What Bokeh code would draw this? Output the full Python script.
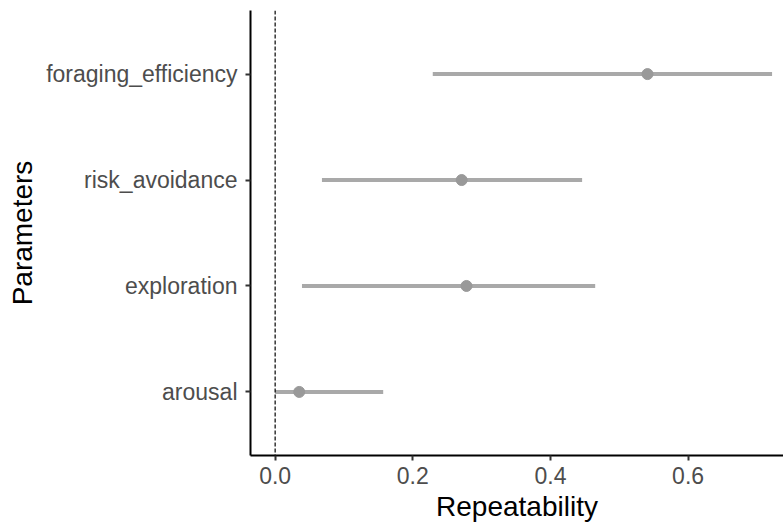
from bokeh.plotting import figure
from bokeh.models import Range1d, FixedTicker, PrintfTickFormatter, Span, ColumnDataSource
from bokeh.embed import file_html
from bokeh.resources import INLINE

# Data (bottom to top)
parameters = ["arousal", "exploration", "risk_avoidance", "foraging_efficiency"]
estimate = [0.035, 0.278, 0.271, 0.541]
lower = [0.0, 0.039, 0.068, 0.229]
upper = [0.157, 0.465, 0.446, 0.722]
x_ticks = [0.0, 0.2, 0.4, 0.6]

pos = list(range(1, len(parameters) + 1))
src = ColumnDataSource(dict(pos=pos, est=estimate, lo=lower, hi=upper))

p = figure(width=783, height=525, output_backend="svg", toolbar_location=None,
           x_range=Range1d(-0.0358, 0.7386), y_range=Range1d(0.4, 4.6),
           min_border_left=250, min_border_right=0, min_border_top=10, min_border_bottom=70)
p.outline_line_color = None
p.xgrid.visible = False
p.ygrid.visible = False
p.background_fill_color = "white"
p.border_fill_color = "white"

p.add_layout(Span(location=0, dimension="height", line_color="black",
                  line_width=1.2, line_dash="4 2"))

p.segment(x0="lo", x1="hi", y0="pos", y1="pos", source=src,
          line_color="#A9A9A9", line_width=4)
p.scatter(x="est", y="pos", source=src, size=11, fill_color="#999999",
          line_color="#999999")

for ax in (p.xaxis[0], p.yaxis[0]):
    ax.axis_line_color = "black"
    ax.axis_line_width = 2
    ax.major_tick_line_color = "#333333"
    ax.major_tick_line_width = 2
    ax.major_tick_out = 5
    ax.major_tick_in = 0
    ax.minor_tick_line_color = None
    ax.major_label_text_font = "Liberation Sans"
    ax.major_label_text_font_size = "23px"
    ax.major_label_text_color = "#4D4D4D"
    ax.axis_label_text_font = "Liberation Sans"
    ax.axis_label_text_font_size = "28px"
    ax.axis_label_text_font_style = "normal"
    ax.axis_label_text_color = "black"

p.xaxis.ticker = FixedTicker(ticks=x_ticks)
p.xaxis.formatter = PrintfTickFormatter(format="%.1f")
p.xaxis.axis_label = "Repeatability"
p.xaxis.major_label_standoff = 6
p.xaxis.axis_label_standoff = 4

p.yaxis.ticker = FixedTicker(ticks=pos)
p.yaxis.major_label_overrides = {float(i): name for i, name in zip(pos, parameters)}
p.yaxis.axis_label = "Parameters"
p.yaxis.major_label_standoff = 8
p.yaxis.axis_label_standoff = 5

open("out.html", "w").write(file_html(p, INLINE))
